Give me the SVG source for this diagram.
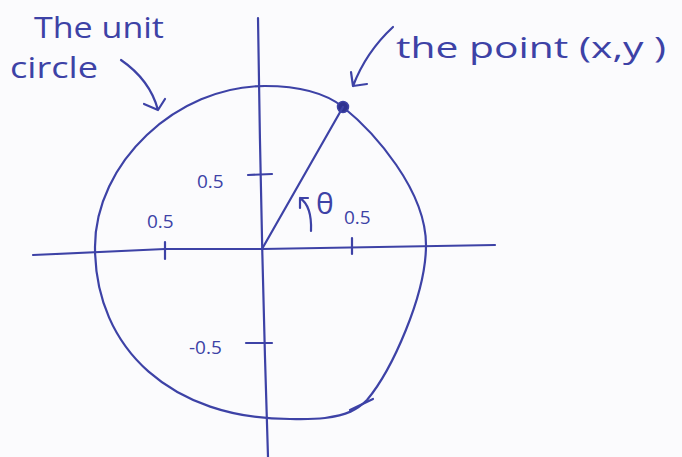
<svg xmlns="http://www.w3.org/2000/svg" width="682" height="457" viewBox="0 0 682 457">
  <defs>
    <style>
      .ink { fill: none; stroke: #3d42a6; stroke-width: 2.2; stroke-linecap: round; stroke-linejoin: round; }
      .txt { fill: #3d42a6; font-family: "Open Sans", "DejaVu Sans", sans-serif; }
      .big { font-size: 30px; }
      .small { font-size: 19px; }
    </style>
  </defs>
  <rect width="682" height="457" fill="#fbfbfd"/>

  <g id="unit-circle">
    <path class="ink" d="M265,86
      C295,86 323,91 343,107
      C374,132 426,190 426,245
      C426,295 392,370 367,400
      C357,410 347,415 325,418
      C312,419.5 300,419 290,419
      C173,419 95,350 95,247
      C95,163 176.6,86 265,86 Z"/>
  </g>

  <g id="axes">
    <path class="ink" d="M33,255 L165,249 L262,249 L495,245"/>
    <path class="ink" d="M258,18 Q261,240 268,457"/>
    <path class="ink" d="M165,242 L165,259"/>
    <path class="ink" d="M352,238 L352,254"/>
    <path class="ink" d="M248,175 L272,174"/>
    <path class="ink" d="M246,343 L272,343"/>
  </g>

  <g id="point">
    <circle cx="343" cy="107" r="5.5" fill="#2e3290" stroke="#3d42a6" stroke-width="1.5"/>
  </g>

  <g id="connectors">
    <path id="radius" class="ink" d="M262,249 L343,107"/>
    <path id="arrow-circle" class="ink" d="M121,60 Q150,80 158,110 M144,104 L158,110 L165,99"/>
    <path id="arrow-point" class="ink" d="M393,27 Q366,52 353,86 M351,72 L353,86 L367,84"/>
    <path id="arrow-theta" class="ink" d="M311,231 Q312,206 300,198 M300,198 L308,198 M300,198 L300,208"/>
    <path id="arrow-direction" class="ink" d="M350,410 L373,399"/>
  </g>

  <g id="labels">
    <text class="txt big" x="34" y="38" textLength="130" lengthAdjust="spacingAndGlyphs">The unit</text>
    <text class="txt big" x="10" y="78" textLength="88" lengthAdjust="spacingAndGlyphs">circle</text>
    <text class="txt big" x="396" y="58" textLength="270" lengthAdjust="spacingAndGlyphs">the point (x,y )</text>
    <text class="txt big" x="316" y="214" font-size="26">θ</text>
    <text class="txt small" x="197" y="188">0.5</text>
    <text class="txt small" x="147" y="228">0.5</text>
    <text class="txt small" x="344" y="224">0.5</text>
    <text class="txt small" x="189" y="354">-0.5</text>
  </g>
</svg>
